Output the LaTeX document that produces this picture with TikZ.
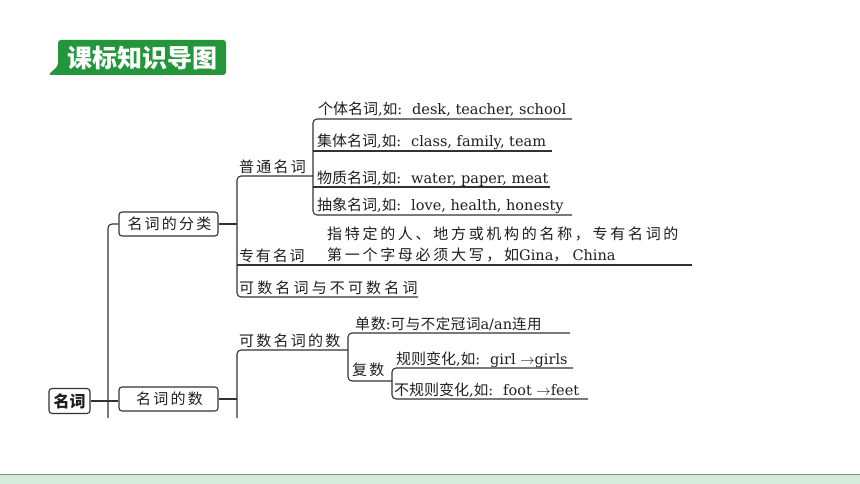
\documentclass[tikz,border=0pt]{standalone}
\usepackage{fontspec}
\setmainfont{DejaVu Serif}
\newfontfamily\cjk{Noto Sans CJK SC}
\newfontfamily\cjkt[LetterSpace=4]{Noto Sans CJK SC}
\newfontfamily\cjkn[LetterSpace=12]{Noto Sans CJK SC}
\newfontfamily\cjks[LetterSpace=15]{Noto Sans CJK SC}
\newfontfamily\cjke[LetterSpace=18]{Noto Sans CJK SC}
\newfontfamily\cjkw[LetterSpace=21]{Noto Sans CJK SC}
\newcommand\lt{\rmfamily\fontsize{14.5}{17}\selectfont}
\newcommand\colsp{\lt:\hspace{10pt}}
\definecolor{titleg}{RGB}{35,150,60}
\definecolor{linec}{RGB}{50,50,50}
\definecolor{textc}{RGB}{30,30,30}
\definecolor{bandline}{RGB}{95,165,125}
\definecolor{bandfill}{RGB}{214,234,222}
\tikzset{
  ln/.style={draw=linec, line width=1.1pt, rounded corners=4pt},
  boxnode/.style={draw=linec, line width=1.1pt, rounded corners=3pt, inner sep=0pt, minimum height=24pt, text=textc},
  txt/.style={anchor=base west, inner sep=0pt, text=textc, font=\fontsize{15}{18}\selectfont}
}
\begin{document}
\begin{tikzpicture}[x=1pt,y=-1pt]
\useasboundingbox (0,0) rectangle (860,484);
% title banner
\fill[titleg, rounded corners=3pt] (58,40) -- (226,40) -- (226,75) -- (48,75) -- (58,66) -- cycle;
\node[text=white, inner sep=0pt, font=\cjk\bfseries\fontsize{25}{28}\selectfont] (title) at (142,58) {课标知识导图};
% bottom band
\fill[bandfill] (0,474) rectangle (860,484);
\draw[bandline, line width=1.6pt] (0,474.5) -- (860,474.5);

% boxes
\node[boxnode, minimum width=41pt, minimum height=25pt, font=\cjk\bfseries\fontsize{16}{18}\selectfont] (mc) at (69.5,401) {名词};
\node[boxnode, minimum width=99pt, font=\cjks\fontsize{15}{18}\selectfont] (fl) at (168.5,224) {\hspace{2pt}名词的分类};
\node[boxnode, minimum width=99pt, font=\cjks\fontsize{15}{18}\selectfont] (ns) at (168.5,399) {\hspace{2pt}名词的数};

% level-1 connectors
\coordinate (v1b) at (108,418);
\draw[ln] (fl.west) -| (v1b);
\draw[ln] (mc.east) -- (mc.east -| ns.west);

% tree of 分类
\coordinate (pt) at (313,176);
\coordinate (c1) at (237,176);
\coordinate (c2) at (237,297);
\coordinate (kb) at (418,297);
\draw[ln] (pt) -- (c1) -- (c2) -- (kb);
\draw[ln] (fl.east) -- (fl.east -| c1);
\coordinate (zy) at (692,265);
\draw[ln] (zy) -- (zy -| c1);

% bracket of 普通名词
\coordinate (u1) at (572,119);
\coordinate (b1t) at (313,119);
\coordinate (b1b) at (313,215);
\coordinate (u4) at (572,215);
\draw[ln] (u1) -- (b1t) -- (b1b) -- (u4);
\coordinate (u2) at (552,151);
\coordinate (u3) at (550,187);
\draw[ln] (u2) -- (u2 -| b1t);
\draw[ln] (u3) -- (u3 -| b1t);

% tree of 名词的数
\coordinate (kt) at (348,350);
\coordinate (c3) at (237,350);
\coordinate (c4) at (237,418);
\draw[ln] (kt) -- (c3) -- (c4);
\draw[ln] (ns.east) -- (ns.east -| c3);

\coordinate (ds) at (570,333);
\coordinate (b2t) at (348,333);
\coordinate (b2b) at (348,381);
\coordinate (fs) at (392,381);
\draw[ln] (ds) -- (b2t) -- (b2b) -- (fs);

\coordinate (gz) at (573,368);
\coordinate (b3t) at (392,368);
\coordinate (b3b) at (392,399);
\coordinate (bg) at (588,399);
\draw[ln] (gz) -- (b3t) -- (b3b) -- (bg);

% texts
\node[txt] (t1) at (318,115) {\cjk 个体名词\lt,\cjk 如\colsp desk, teacher, school};
\node[txt] (t2) at (317,147) {\cjk 集体名词\lt,\cjk 如\colsp class, family, team};
\node[txt] (t3) at (317,183) {\cjk 物质名词\lt,\cjk 如\colsp water, paper, meat};
\node[txt] (t4) at (317,211) {\cjk 抽象名词\lt,\cjk 如\colsp love, health, honesty};
\node[txt] (pn) at (239,172) {\cjks 普通名词};
\node[txt] (zn) at (239,261) {\cjkn 专有名词};
\node[txt] (e1) at (327,240) {\cjke 指特定的人、地方或机构的名称，专有名词的};
\node[txt] (e2) at (327,260) {\cjke 第一个字母必须大写，如\lt Gina{\cjk ，} China};
\node[txt] (kn) at (239,293) {\cjkw 可数名词与不可数名词};
\node[txt] (kd) at (239,346) {\cjks 可数名词的数};
\node[txt] (sd) at (355,329) {\cjkt 单数\lt:\cjkt 可与不定冠词\lt a/an\cjkt 连用};
\node[txt] (fd) at (352,375) {\cjks 复数};
\node[txt] (gb) at (396,364) {\cjk 规则变化\lt,\cjk 如\colsp girl $\rightarrow$girls};
\node[txt] (bb) at (394,395) {\cjk 不规则变化\lt,\cjk 如\colsp foot $\rightarrow$feet};
\end{tikzpicture}
\end{document}
